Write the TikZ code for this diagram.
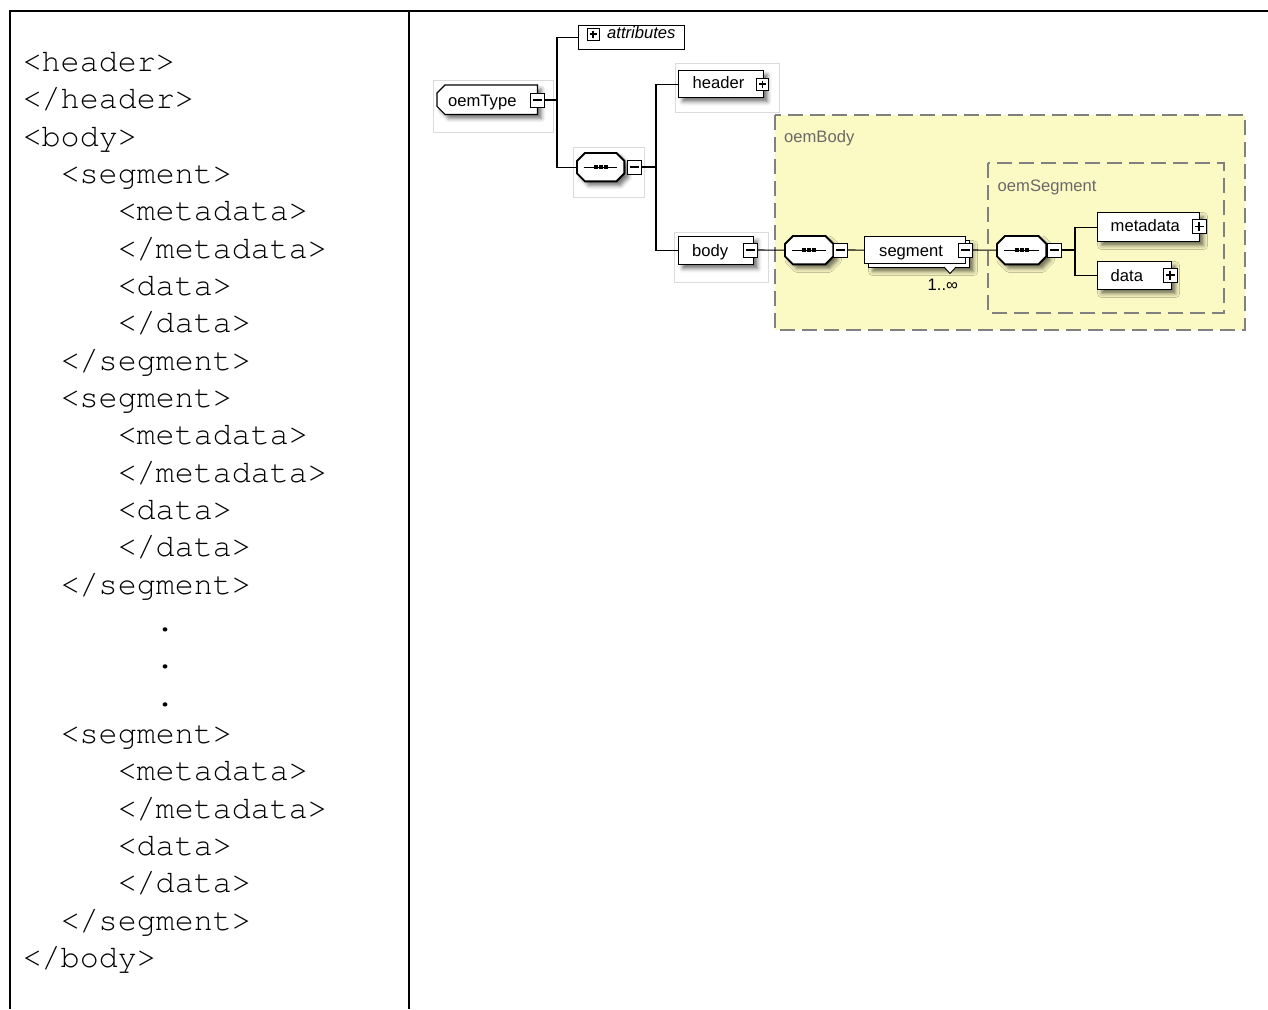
\documentclass[tikz,border=0pt]{standalone}
\usepackage{fontspec}
\setmainfont{Liberation Sans}
\usetikzlibrary{shadows.blur}
\definecolor{bodyfill}{RGB}{252,250,196}
\definecolor{dashgray}{RGB}{128,128,128}
\definecolor{labgray}{RGB}{105,105,105}
\newcommand{\courierfont}{\fontencoding{T1}\fontfamily{pcr}\fontseries{m}\fontshape{n}\fontsize{31.7}{37}\selectfont}
\tikzset{
  code/.style={font=\courierfont, inner sep=0pt, anchor=base west},
  lab/.style={font=\fontsize{16.6}{19}\selectfont, inner sep=0pt, anchor=base west},
  glab/.style={lab, text=labgray},
  conn/.style={line width=1.1pt},
  faint/.style={draw=black!14, line width=0.8pt},
  shad/.style={blur shadow={shadow xshift=4pt, shadow yshift=-4pt, shadow blur radius=4pt, shadow opacity=55}},
  elem/.style={draw, fill=white, line width=1.2pt, rectangle, inner sep=0pt, anchor=north west},
  holder/.style={rectangle, inner sep=0pt, anchor=north west},
  octline/.style={draw, fill=white, line width=1.9pt, line join=miter, shad},
  pm/.style={draw, fill=white, line width=1pt, minimum width=14pt, minimum height=14pt, inner sep=0pt},
  minus/.style={pm, path picture={\draw[line width=1.1pt] ([xshift=2.5pt]path picture bounding box.west) -- ([xshift=-2.5pt]path picture bounding box.east);}},
  plus/.style={pm, path picture={\draw[line width=1.1pt] ([xshift=2.5pt]path picture bounding box.west) -- ([xshift=-2.5pt]path picture bounding box.east) ([yshift=-2.5pt]path picture bounding box.north) -- ([yshift=2.5pt]path picture bounding box.south);}},
  region/.style={draw=dashgray, line width=1.4pt, dash pattern=on 15pt off 7pt},
}
\newcommand{\octshape}[1]{%
  \path[octline] ([xshift=8pt]#1.north west) -- ([xshift=-8pt]#1.north east) -- ([yshift=-8pt]#1.north east)
    -- ([yshift=8pt]#1.south east) -- ([xshift=-8pt]#1.south east) -- ([xshift=8pt]#1.south west)
    -- ([yshift=8pt]#1.south west) -- ([yshift=-8pt]#1.north west) -- cycle;
  \draw[line width=1.1pt] ([xshift=7pt]#1.west) -- ([xshift=-7pt]#1.east);
  \fill ([xshift=-7pt,yshift=-2pt]#1.center) rectangle ++(4pt,4pt);
  \fill ([xshift=-2pt,yshift=-2pt]#1.center) rectangle ++(4pt,4pt);
  \fill ([xshift=3pt,yshift=-2pt]#1.center) rectangle ++(4pt,4pt);
}
\begin{document}
\begin{tikzpicture}[x=1pt,y=-1pt]
\useasboundingbox (0,0) rectangle (1268,1009);
% table frame
\draw[line width=2pt] (9.7,1009) -- (9.7,11) -- (1268,11);
\draw[line width=2pt] (409.3,11) -- (409.3,1009);
% code
\foreach \ind/\txt [count=\i from 0] in {
 0/{<header>}, 0/{</header>}, 0/{<body>}, 2/{<segment>}, 5/{<metadata>}, 5/{</metadata>},
 5/{<data>}, 5/{</data>}, 2/{</segment>}, 2/{<segment>}, 5/{<metadata>}, 5/{</metadata>},
 5/{<data>}, 5/{</data>}, 2/{</segment>}, 7/{.}, 7/{.}, 7/{.}, 2/{<segment>}, 5/{<metadata>},
 5/{</metadata>}, 5/{<data>}, 5/{</data>}, 2/{</segment>}, 0/{</body>}}
 { \node[code] (c\i) at ({22.5+19.0*\ind},{71.5+37.33*\i}) {\txt}; }

% faint background frames
\draw[faint] (433,80) rectangle (553,132);
\draw[faint] (573,147) rectangle (644,197);
\draw[faint] (675,63) rectangle (779,112);
\draw[faint] (674,232) rectangle (768,282);

% regions
\draw[region, fill=bodyfill] (775,115) rectangle (1245,330);
\node[glab] (lbody) at (784,142) {oemBody};
\draw[region] (988,163) rectangle (1224,313);
\node[glab] (lseg) at (997.5,191.5) {oemSegment};

% element boxes
\node[holder, minimum width=100pt, minimum height=29pt] (oemType) at (437,85) {};
\path[draw, fill=white, line width=1.2pt, shad] ([xshift=8pt]oemType.north west) -- (oemType.north east)
  -- (oemType.south east) -- ([xshift=8pt]oemType.south west) -- ([yshift=8pt]oemType.south west)
  -- ([yshift=-8pt]oemType.north west) -- cycle;
\node[lab] (toemType) at (448,106.5) {oemType};
\node[minus] (m0) at (537,100) {};

\node[elem, minimum width=106pt, minimum height=24pt] (attr) at (578,25) {};
\node[plus, minimum width=12pt, minimum height=12pt] (pattr) at (593,34) {};
\node[lab] (tattr) at (607,38.5) {\itshape attributes};

\node[holder, minimum width=47pt, minimum height=28pt] (seq1) at (577,153) {};
\octshape{seq1}
\node[minus] (m1) at (634.5,167) {};

\node[elem, shad, minimum width=85pt, minimum height=27pt] (header) at (678,70) {};
\node[lab] (theader) at (692.5,88.5) {header};
\node[plus, minimum width=12pt, minimum height=12pt] (pheader) at (762.5,84) {};

\node[elem, shad, minimum width=75pt, minimum height=28pt] (body) at (678,236) {};
\node[lab] (tbody) at (692,256) {body};
\node[minus] (mbody) at (750.5,250) {};

\node[holder, minimum width=48pt, minimum height=28pt] (seq2) at (785,236) {};
\octshape{seq2}
\node[minus] (m2) at (840.5,250) {};

\node[elem, shad, minimum width=101pt, minimum height=27pt] (segback) at (868,240) {};
\node[elem, minimum width=101pt, minimum height=27pt] (segment) at (864,236) {};
\node[lab] (tsegment) at (879,256) {segment};
\node[minus] (mseg) at (965,250) {};
\draw[line width=0.9pt, fill=white] (944,267) -- (950,273.5) -- (956,267);
\node[lab] (occ) at (927.5,290) {1..∞};

\node[holder, minimum width=49pt, minimum height=28pt] (seq3) at (997,236) {};
\octshape{seq3}
\node[minus] (m3) at (1054.5,250) {};

\node[elem, shad, minimum width=102pt, minimum height=29pt] (metadata) at (1097,212) {};
\node[lab] (tmetadata) at (1110.5,231.5) {metadata};
\node[plus] (pmeta) at (1199,226.5) {};

\node[elem, shad, minimum width=74pt, minimum height=28pt] (data) at (1097,261) {};
\node[lab] (tdata) at (1110.5,281) {data};
\node[plus] (pdata) at (1170,275) {};

% connectors
\coordinate (j0) at (557,100);
\coordinate (j1) at (656,167);
\coordinate (j3) at (1075,250);
\draw[conn] (m0.east) -- (j0);
\draw[conn] (j0) |- (attr.west);
\draw[conn] (j0) |- (seq1.west);
\draw[conn] (m1.east) -- (j1);
\draw[conn] (j1) |- (header.west);
\draw[conn] (j1) |- (body.west);
\draw[conn] (mbody.east) -- (seq2.west);
\draw[conn] (m2.east) -- (segment.west);
\draw[conn] (mseg.east) -- (seq3.west);
\draw[conn] (m3.east) -- (j3);
\draw[conn] (j3) |- (metadata.west);
\draw[conn] (j3) |- (data.west);
\end{tikzpicture}
\end{document}
